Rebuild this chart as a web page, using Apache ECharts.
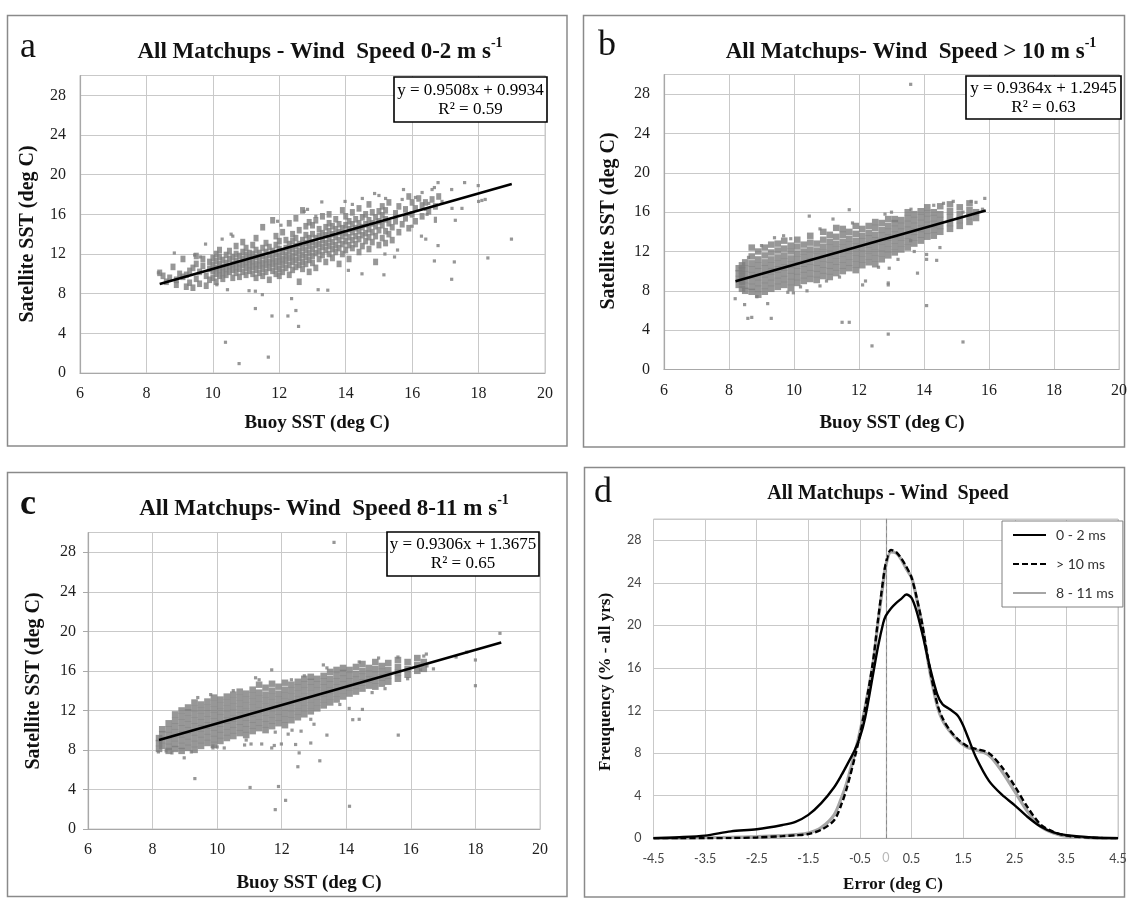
<!DOCTYPE html>
<html><head><meta charset="utf-8">
<script src="https://cdn.jsdelivr.net/npm/echarts@6/dist/echarts.min.js"></script>
<style>html,body{margin:0;padding:0;background:#fff}#chart{width:1130px;height:898px}</style>
</head><body><div id="chart"></div>
<script>
// ---------- Panel a : wind speed 0-2 m/s ----------
const aCore = [[8.4,10.1],[8.5,9.8],[8.6,9.2],[8.7,9.6],[8.8,10.7],[8.9,8.9],[8.9,9.4],[9.0,10.0],[9.1,11.5],[9.1,9.7],[9.2,8.7],[9.2,9.9],[9.3,10.3],[9.3,9.1],[9.4,8.6],[9.4,10.6],[9.5,9.5],[9.5,11.0],[9.5,11.8],[9.6,10.2],[9.6,9.0],[9.7,10.8],[9.7,11.5],[9.8,8.8],[9.8,9.8],[9.9,10.5],[9.9,11.2],[9.9,9.4],
[10.0,9.6],[10.0,10.3],[10.0,10.9],[10.0,11.6],[10.1,9.2],[10.1,10.0],[10.1,10.6],[10.1,11.3],[10.1,12.0],[10.2,9.8],[10.2,10.4],[10.2,11.0],[10.2,11.7],[10.2,12.4],[10.3,9.5],[10.3,10.1],[10.3,10.7],[10.3,11.4],[10.4,9.9],[10.4,10.5],[10.4,11.1],[10.4,11.9],[10.5,10.2],[10.5,10.8],[10.5,11.5],[10.5,12.3],[10.6,9.6],[10.6,10.4],[10.6,11.0],[10.6,11.7],[10.7,10.1],[10.7,10.7],[10.7,11.3],[10.7,12.0],[10.7,12.8],[10.8,9.7],[10.8,10.5],[10.8,11.1],[10.8,11.8],[10.9,10.2],[10.9,10.9],[10.9,11.5],[10.9,12.2],[10.9,13.2],
[11.0,9.9],[11.0,10.6],[11.0,11.2],[11.0,11.9],[11.0,12.6],[11.1,10.3],[11.1,10.9],[11.1,11.5],[11.1,12.1],[11.2,10.0],[11.2,10.7],[11.2,11.3],[11.2,12.0],[11.2,12.9],[11.3,9.6],[11.3,10.4],[11.3,11.0],[11.3,11.7],[11.3,12.4],[11.3,13.6],[11.4,10.1],[11.4,10.8],[11.4,11.4],[11.4,12.1],[11.5,9.8],[11.5,10.5],[11.5,11.1],[11.5,11.8],[11.5,12.6],[11.5,14.7],[11.6,10.2],[11.6,10.9],[11.6,11.5],[11.6,12.2],[11.6,13.1],[11.7,9.4],[11.7,10.6],[11.7,11.2],[11.7,11.9],[11.7,12.7],[11.8,10.3],[11.8,11.0],[11.8,11.6],[11.8,12.3],[11.8,15.4],[11.9,10.0],[11.9,10.7],[11.9,11.3],[11.9,12.0],[11.9,12.9],[11.9,13.8],
[12.0,9.8],[12.0,10.5],[12.0,11.2],[12.0,11.8],[12.0,12.5],[12.0,13.3],[12.1,10.2],[12.1,10.9],[12.1,11.5],[12.1,12.2],[12.1,14.2],[12.2,10.6],[12.2,11.3],[12.2,11.9],[12.2,12.6],[12.2,13.4],[12.3,9.9],[12.3,10.9],[12.3,11.6],[12.3,12.3],[12.3,13.0],[12.3,15.1],[12.4,10.4],[12.4,11.2],[12.4,11.8],[12.4,12.5],[12.4,13.3],[12.4,14.0],[12.5,10.7],[12.5,11.4],[12.5,12.1],[12.5,12.8],[12.5,13.6],[12.5,15.6],[12.6,9.2],[12.6,10.9],[12.6,11.6],[12.6,12.3],[12.6,13.0],[12.6,14.4],[12.7,10.5],[12.7,11.2],[12.7,11.9],[12.7,12.6],[12.7,13.4],[12.7,16.4],[12.8,11.0],[12.8,11.7],[12.8,12.4],[12.8,13.1],[12.8,13.9],[12.8,14.8],[12.9,10.2],[12.9,11.4],[12.9,12.1],[12.9,12.8],[12.9,13.6],[12.9,15.2],
[13.0,11.1],[13.0,11.8],[13.0,12.5],[13.0,13.2],[13.0,14.0],[13.0,14.9],[13.1,10.6],[13.1,12.1],[13.1,12.9],[13.1,13.6],[13.1,15.4],[13.2,11.5],[13.2,12.3],[13.2,13.0],[13.2,13.8],[13.2,14.5],[13.3,11.9],[13.3,12.7],[13.3,13.4],[13.3,14.1],[13.3,15.8],[13.4,11.2],[13.4,12.4],[13.4,13.1],[13.4,13.9],[13.4,14.7],[13.5,12.0],[13.5,12.8],[13.5,13.5],[13.5,14.3],[13.5,15.1],[13.5,16.0],[13.6,11.6],[13.6,12.5],[13.6,13.2],[13.6,14.0],[13.6,14.8],[13.7,12.2],[13.7,12.9],[13.7,13.7],[13.7,14.5],[13.7,15.5],[13.8,11.0],[13.8,12.6],[13.8,13.4],[13.8,14.2],[13.8,15.0],[13.9,12.0],[13.9,13.0],[13.9,13.8],[13.9,14.6],[13.9,16.4],
[14.0,12.4],[14.0,13.3],[14.0,14.1],[14.0,14.9],[14.0,15.8],[14.1,11.5],[14.1,12.9],[14.1,13.7],[14.1,14.5],[14.1,15.3],[14.2,12.6],[14.2,13.4],[14.2,14.2],[14.2,15.0],[14.2,16.2],[14.3,13.0],[14.3,13.8],[14.3,14.6],[14.3,15.5],[14.4,12.2],[14.4,13.5],[14.4,14.3],[14.4,15.1],[14.4,16.6],[14.5,12.8],[14.5,13.9],[14.5,14.7],[14.5,15.7],[14.6,13.3],[14.6,14.1],[14.6,15.0],[14.6,16.0],[14.7,12.5],[14.7,13.7],[14.7,14.5],[14.7,15.4],[14.7,17.0],[14.8,13.2],[14.8,14.2],[14.8,15.1],[14.8,16.2],[14.9,11.2],[14.9,13.8],[14.9,14.8],[14.9,15.7],[15.0,12.9],[15.0,14.4],[15.0,15.3],[15.0,16.3],[15.1,13.6],[15.1,14.9],[15.1,15.9],[15.1,16.8],[15.2,13.1],[15.2,14.3],[15.2,15.5],[15.2,16.4],[15.3,14.0],[15.3,15.1],[15.3,17.2],[15.4,13.4],[15.4,14.7],[15.5,15.3],[15.5,16.1],
[15.6,14.2],[15.6,16.8],[15.7,15.0],[15.8,15.6],[15.8,16.5],[15.9,14.6],[15.9,17.8],[16.0,16.0],[16.0,17.2],[16.1,15.3],[16.1,16.6],[16.2,17.6],[16.3,15.8],[16.3,16.9],[16.4,17.2],[16.5,16.3],[16.6,17.5],[16.7,16.8],[16.8,17.8]];
const aOut = [[10.38,3.1],[10.79,0.95],[11.67,1.6],[11.78,5.75],[12.26,5.75],[12.5,6.3],[12.58,4.7],[12.37,7.5],[11.28,6.5],[11.49,7.9],[11.09,8.3],[11.28,8.25],[13.17,8.4],[13.46,8.35],[14.08,10.35],[14.49,10.0],[15.15,9.9],[15.18,12.0],[15.47,11.7],[15.56,12.4],[16.28,13.8],[16.41,13.5],[16.67,11.3],[16.78,12.85],[17.19,9.45],[17.27,11.2],[18.28,11.6],[18.99,13.5],[17.19,18.5],[17.58,19.2],[17.99,18.9],[18.0,17.3],[18.1,17.4],[18.2,17.5],[17.5,16.6],[17.2,16.6],[17.3,15.4],[16.78,19.2],[16.67,18.7],[16.6,18.5],[15.74,18.5],[15.7,17.5],[14.87,18.1],[13.28,17.25],[13.98,17.3],[16.7,15.6],[16.7,15.3],[16.4,16.5],[16.45,16.0],[15.9,16.0],[16.0,14.8],[8.36,10.1],[8.84,12.1],[9.78,13.0],[10.28,13.5],[10.55,14.0],[10.6,13.8],[10.44,8.4],[10.12,8.9],[9.45,11.9],[9.62,11.7],[12.05,14.9],[12.75,16.3],[12.85,16.5],[13.1,15.8],[11.95,15.3],[14.2,17.0],[14.5,17.6],[15.0,17.9],[15.2,17.6],[16.1,17.7],[16.3,18.2],[16.5,17.1],[16.9,17.3]];
const aLine = [[8.4, 8.98], [19.0, 19.06]];
const aEq = ['y = 0.9508x + 0.9934', 'R² = 0.59'];

// ---------- Panel b : wind speed > 10 m/s (columns: x, y values) ----------
const bCols = [[8.3,[8.6,9.2,9.8,10.3]],[8.4,[8.2,8.9,9.5,10.1,10.6]],[8.5,[8.0,8.5,9.1,9.7,10.3,10.9]],[8.7,[7.9,8.4,9.0,9.6,10.2,10.8,11.5,12.4]],[8.9,[7.6,8.2,8.8,9.4,10.0,10.6,11.2,12.0]],[9.1,[7.9,8.5,9.1,9.7,10.3,10.9,11.6,12.4]],[9.3,[8.2,8.8,9.4,10.0,10.6,11.2,11.9,12.7]],[9.5,[8.4,9.0,9.6,10.2,10.8,11.4,12.1,12.8]],[9.7,[8.6,9.2,9.8,10.4,11.0,11.6,12.3,13.1]],[9.9,[8.3,8.9,9.5,10.1,10.7,11.3,12.0,12.6]],[10.1,[8.8,9.4,10.0,10.6,11.2,11.8,12.5,13.2]],[10.3,[9.0,9.6,10.2,10.8,11.4,12.0,12.7]],[10.5,[9.2,9.8,10.4,11.0,11.6,12.2,12.9,13.6]],[10.7,[9.1,9.7,10.3,10.9,11.5,12.1,12.8]],[10.9,[9.5,10.1,10.7,11.3,11.9,12.5,13.2,14.0]],[11.1,[9.4,10.0,10.6,11.2,11.8,12.4,13.0,13.7]],[11.3,[9.8,10.4,11.0,11.6,12.2,12.8,13.5,14.4]],[11.5,[10.0,10.6,11.2,11.8,12.4,13.0,13.7,14.3]],[11.7,[10.3,10.9,11.5,12.1,12.7,13.3,14.0]],[11.9,[10.1,10.7,11.3,11.9,12.5,13.1,13.8,14.6]],[12.1,[10.6,11.2,11.8,12.4,13.0,13.6,14.3]],[12.3,[10.9,11.5,12.1,12.7,13.3,13.9,14.6]],[12.5,[10.7,11.3,11.9,12.5,13.1,13.7,14.4,15.0]],[12.7,[11.2,11.8,12.4,13.0,13.6,14.2,14.9]],[12.9,[11.6,12.2,12.8,13.4,14.0,14.6,15.3]],[13.1,[11.9,12.5,13.1,13.7,14.3,14.9,15.3]],[13.3,[12.2,12.8,13.4,14.0,14.6,15.2]],[13.5,[12.4,13.0,13.6,14.2,14.8,15.4,16.0]],[13.7,[12.8,13.4,14.0,14.6,15.2,15.8]],[13.9,[13.1,13.7,14.3,14.9,15.5,16.1]],[14.1,[13.5,14.1,14.7,15.3,15.9,16.5]],[14.3,[13.6,14.2,14.8,15.4,16.0]],[14.5,[14.0,14.6,15.2,15.8,16.6]],[14.8,[14.3,14.9,15.5,16.1,16.8]],[15.1,[14.6,15.2,15.8,16.5]],[15.4,[15.0,15.6,16.2,16.9]],[15.6,[15.4,16.0]]];
const bOut = [[13.59,29.0],[8.19,7.2],[8.48,6.6],[8.58,5.2],[8.7,5.3],[9.3,5.2],[9.19,6.7],[11.48,4.8],[11.7,4.8],[12.4,2.4],[12.9,3.6],[15.2,2.8],[14.08,6.5],[13.8,9.8],[12.9,8.8],[12.9,8.6],[12.11,8.6],[12.2,9.0],[12.93,10.3],[14.08,11.7],[14.08,11.2],[14.39,11.1],[14.49,12.4],[11.7,16.25],[10.47,15.6],[11.2,15.3],[14.9,17.1],[15.45,17.1],[15.6,17.0],[15.87,17.4],[9.68,13.6],[9.4,13.4],[10.4,8.0],[10.8,8.5],[9.81,7.85],[9.98,7.8],[8.86,7.4],[13.59,13.1],[12.6,10.4],[13.2,11.2],[13.7,12.0],[11.0,9.0],[10.2,8.4],[11.4,9.4],[12.8,15.8],[13.0,16.0],[13.6,16.3],[14.3,16.7],[14.6,16.9],[15.2,16.0],[15.8,16.3],[11.8,14.9],[10.8,14.3],[9.9,13.3],[9.0,12.6],[8.6,11.4]];
const bLine = [[8.2, 8.97], [15.9, 16.18]];
const bEq = ['y = 0.9364x + 1.2945', 'R² = 0.63'];

// ---------- Panel c : wind speed 8-11 m/s (columns: x, y values) ----------
const cCols = [[8.2,[8.1,8.7,9.2]],[8.3,[8.4,9.0,9.6,10.1]],[8.5,[7.9,8.3,8.9,9.5,10.1,10.7]],[8.7,[8.1,8.6,9.2,9.8,10.4,11.0,11.6]],[8.9,[7.9,8.4,9.0,9.6,10.2,10.8,11.4,12.0]],[9.1,[8.2,8.8,9.4,10.0,10.6,11.2,11.8,12.3]],[9.3,[8.0,8.6,9.2,9.8,10.4,11.0,11.6,12.2,12.8]],[9.5,[8.4,9.0,9.6,10.2,10.8,11.4,12.0,12.6]],[9.7,[8.7,9.3,9.9,10.5,11.1,11.7,12.3,12.9]],[9.9,[8.5,9.1,9.7,10.3,10.9,11.5,12.1,12.7,13.3]],[10.1,[8.9,9.5,10.1,10.7,11.3,11.9,12.5,13.1]],[10.3,[9.2,9.8,10.4,11.0,11.6,12.2,12.8,13.4]],[10.5,[9.4,10.0,10.6,11.2,11.8,12.4,13.0,13.6]],[10.7,[9.7,10.3,10.9,11.5,12.1,12.7,13.3,13.9]],[10.9,[9.5,10.1,10.7,11.3,11.9,12.5,13.1,13.7]],[11.1,[9.9,10.5,11.1,11.7,12.3,12.9,13.5,14.1]],[11.3,[10.2,10.8,11.4,12.0,12.6,13.2,13.8,14.6]],[11.5,[10.0,10.6,11.2,11.8,12.4,13.0,13.6,14.3]],[11.7,[10.4,11.0,11.6,12.2,12.8,13.4,14.0,14.7]],[11.9,[10.7,11.3,11.9,12.5,13.1,13.7,14.4]],[12.1,[10.5,11.1,11.7,12.3,12.9,13.5,14.1,14.8]],[12.3,[11.0,11.6,12.2,12.8,13.4,14.0,14.6]],[12.5,[11.3,11.9,12.5,13.1,13.7,14.3,14.9]],[12.7,[11.6,12.2,12.8,13.4,14.0,14.6,15.2]],[12.9,[11.9,12.5,13.1,13.7,14.3,14.9,15.4]],[13.1,[12.2,12.8,13.4,14.0,14.6,15.2]],[13.3,[12.5,13.1,13.7,14.3,14.9,15.5]],[13.5,[12.8,13.4,14.0,14.6,15.2,15.9]],[13.7,[13.1,13.7,14.3,14.9,15.5,16.1]],[13.9,[13.4,14.0,14.6,15.2,15.8,16.3]],[14.1,[13.7,14.3,14.9,15.5,16.1]],[14.3,[13.9,14.5,15.1,15.7,16.4]],[14.5,[14.2,14.8,15.4,16.0,16.7]],[14.7,[14.5,15.1,15.7,16.3]],[14.9,[14.4,15.0,15.6,16.2,16.9]],[15.1,[14.7,15.3,15.9,16.5]],[15.3,[14.9,15.5,16.1,16.8]],[15.6,[15.2,15.8,16.4,17.1]],[15.9,[15.6,16.2,16.9]],[16.2,[16.0,16.6,17.3]],[16.4,[16.2,16.9]]];
const cOut = [[13.62,29.0],[18.76,19.8],[18.0,17.1],[18.0,14.5],[17.73,17.9],[17.4,17.4],[16.4,17.5],[16.48,17.7],[15.61,9.5],[14.5,12.1],[14.4,11.1],[14.2,11.06],[14.09,12.2],[14.1,2.3],[13.18,6.9],[12.54,7.7],[12.5,6.3],[12.12,2.9],[11.8,1.96],[11.9,4.3],[11.02,4.2],[9.31,5.1],[8.98,7.2],[12.9,8.7],[13.4,9.5],[12.43,8.55],[12.32,10.0],[11.77,8.45],[11.99,8.6],[11.38,8.6],[11.69,8.2],[11.69,16.1],[13.29,16.6],[11.19,15.3],[9.87,8.4],[9.87,8.2],[10.22,8.2],[8.18,7.8],[8.42,7.9],[10.85,8.5],[11.05,8.6],[9.4,13.3],[9.8,13.6],[10.5,14.0],[11.3,15.1],[12.3,15.1],[12.7,15.5],[13.4,16.3],[14.4,16.9],[15.0,17.3],[15.6,17.4],[16.7,16.2],[16.5,16.5],[14.8,13.8],[13.8,12.6],[12.9,11.1],[11.8,9.8],[10.9,9.0],[10.0,8.3],[9.2,7.8],[8.6,7.7],[12.6,9.9],[12.2,9.6],[13.0,10.6],[15.2,14.2],[15.9,15.2],[16.3,16.1]];
const cLine = [[8.2, 9.0], [18.8, 18.86]];
const cEq = ['y = 0.9306x + 1.3675', 'R² = 0.65'];

// ---------- Panel d : error frequency ----------
const dX    = [-4.5,-4,-3.5,-3,-2.5,-2,-1.75,-1.5,-1.25,-1,-0.85,-0.75,-0.6,-0.5,-0.4,-0.25,-0.15,-0.05,0,0.1,0.2,0.3,0.4,0.5,0.6,0.7,0.85,1,1.1,1.25,1.4,1.5,1.6,1.75,2,2.25,2.5,2.75,3,3.25,3.5,4,4.5];
const d0_2  = [0.02,0.1,0.25,0.65,0.85,1.25,1.55,2.2,3.3,4.8,6.0,6.9,8.3,9.5,11.3,15.3,18.0,20.2,20.9,21.6,22.1,22.5,22.9,22.6,21.3,19.4,16.2,13.5,12.6,12.1,11.5,10.6,9.4,7.6,5.4,4.1,3.1,2.0,1.1,0.55,0.3,0.08,0.02];
const dGt10 = [0,0,0,0.02,0.08,0.2,0.28,0.4,0.8,1.7,3.3,4.8,7.6,9.7,12.2,16.5,20.5,24.3,25.8,27.1,26.9,26.3,25.5,24.5,22.6,20.3,16.0,12.6,11.3,10.1,9.3,8.9,8.6,8.4,8.0,6.7,4.9,2.9,1.3,0.6,0.25,0.05,0];
const d8_11 = [0,0.02,0.05,0.1,0.15,0.25,0.35,0.5,1.0,2.2,3.9,5.3,8.0,10.0,12.3,16.3,20.3,24.0,25.6,26.9,26.8,26.2,25.3,24.5,22.5,20.2,15.8,12.4,11.1,10.0,9.2,8.8,8.5,8.3,7.8,6.3,4.4,2.5,1.1,0.5,0.2,0.04,0];
const dNames = ['0 - 2 ms', '> 10 ms', '8 - 11 ms'];

// ---------- helpers ----------
function flat(cols){ const o=[]; cols.forEach(c=>c[1].forEach(y=>o.push([c[0],y]))); return o; }
function pairs(xs, ys){ return xs.map((x,i)=>[x, ys[i]]); }

const SERIF = '"Liberation Serif","Times New Roman",serif';
const SANS = 'Lato,"Open Sans",sans-serif';
const GRID_C = '#c9c9c9', AXIS_C = '#a8a8a8', DOT_C = '#7d7d7d';

const grids = [
  {left:80,  top:75.5, width:465,   height:297.5},
  {left:664, top:74.5, width:455,   height:295},
  {left:88,  top:532.5,width:452,   height:296.5},
  {left:653.5,top:519, width:464.5, height:319.3}
].map(g=>Object.assign({show:true, borderColor:GRID_C, borderWidth:1, backgroundColor:'transparent'}, g));

function sx(i){ return {gridIndex:i, type:'value', min:6, max:20, interval:2,
  axisLine:{show:true, lineStyle:{color:AXIS_C, width:1.2}}, axisTick:{show:false},
  splitLine:{lineStyle:{color:GRID_C, width:1}},
  axisLabel:{fontFamily:SERIF, fontSize:16, color:'#1e1e1e', margin:13}}; }
function sy(i, tick){ return {gridIndex:i, type:'value', min:0, max:30, interval:4,
  axisLine:{show:true, lineStyle:{color:AXIS_C, width:1.2}},
  axisTick:{show:!!tick, length:5, lineStyle:{color:AXIS_C}},
  splitLine:{lineStyle:{color:GRID_C, width:1}},
  axisLabel:{fontFamily:SERIF, fontSize:16, color:'#1e1e1e', margin:tick?12:14, showMaxLabel:false}}; }

function scatterSeries(i, core, out, line, coreSize){
  return [
    {type:'scatter', xAxisIndex:i, yAxisIndex:i, data:core, symbol:'rect', symbolSize:coreSize, itemStyle:{color:DOT_C}, silent:true, z:2},
    {type:'scatter', xAxisIndex:i, yAxisIndex:i, data:out, symbol:'rect', symbolSize:3.2, itemStyle:{color:DOT_C}, silent:true, z:2},
    {type:'line', xAxisIndex:i, yAxisIndex:i, data:line, showSymbol:false, symbol:'none', lineStyle:{color:'#000', width:2.6}, silent:true, z:3}
  ];
}

function eqBox(x, y, w, h, lines){
  return [
    {type:'rect', z:50, shape:{x:x, y:y, width:w, height:h}, style:{fill:'#fff', stroke:'#000', lineWidth:1.6}},
    {type:'text', z:51, x:x+w/2, y:y+h/2+0.5, style:{text:lines.join('\n'), font:'17px '+SERIF, fill:'#000', align:'center', verticalAlign:'middle', lineHeight:19}}
  ];
}
function panelBorder(x, y, w, h){ return {type:'rect', z:-1, shape:{x:x, y:y, width:w, height:h}, style:{fill:'none', stroke:'#8a8a8a', lineWidth:1.5}}; }
function label(t, x, y, bold){ return {type:'text', z:10, x:x, y:y, style:{text:t, font:(bold?'bold ':'')+'36px '+SERIF, fill:'#111', align:'center', verticalAlign:'middle'}}; }
function title(main, sup, x, y, size){
  const txt = sup ? '{t|'+main+'}{s|'+sup+'}' : '{t|'+main+'}';
  return {type:'text', z:10, x:x, y:y, style:{text:txt, align:'center', verticalAlign:'middle',
    rich:{t:{fontFamily:SERIF, fontWeight:'bold', fontSize:size, fill:'#111', lineHeight:size+4, verticalAlign:'bottom'},
          s:{fontFamily:SERIF, fontWeight:'bold', fontSize:Math.round(size*0.6), fill:'#111', lineHeight:Math.round(size*0.6)+1, verticalAlign:'top'}}}};
}
function axTitle(t, x, y, size, rot){
  return {type:'text', z:10, x:x, y:y, rotation: rot?Math.PI/2:0, style:{text:t, font:'bold '+size+'px '+SERIF, fill:'#111', align:'center', verticalAlign:'middle'}};
}

const chart = echarts.init(document.getElementById('chart'), null, {renderer:'canvas'});
chart.setOption({
  animation:false,
  backgroundColor:'#fff',
  grid: grids,
  xAxis: [sx(0), sx(1), sx(2),
    {gridIndex:3, type:'value', min:-4.5, max:4.5, interval:1,
     axisLine:{show:true, lineStyle:{color:AXIS_C, width:1.2}}, axisTick:{show:false},
     splitLine:{lineStyle:{color:GRID_C, width:1}},
     axisLabel:{fontFamily:SANS, fontSize:12.5, color:'#444', margin:14}}],
  yAxis: [sy(0), sy(1), sy(2, true),
    {gridIndex:3, type:'value', min:0, max:30, interval:4,
     axisLine:{show:true, lineStyle:{color:AXIS_C, width:1.2}}, axisTick:{show:false},
     splitLine:{lineStyle:{color:GRID_C, width:1}},
     axisLabel:{fontFamily:SANS, fontSize:12.5, color:'#444', margin:12, showMaxLabel:false}}],
  legend:{data:dNames, orient:'vertical', left:1002, top:521, padding:[7,9,7,10], itemGap:15,
    itemWidth:33, itemHeight:14, backgroundColor:'#fff', borderColor:'#808080', borderWidth:1,
    itemStyle:{color:'rgba(0,0,0,0)', borderColor:'rgba(0,0,0,0)', borderWidth:0, opacity:0},
    textStyle:{fontFamily:SANS, fontSize:14, color:'#333', padding:[0,0,0,5]}},
  series: [].concat(
    scatterSeries(0, aCore, aOut, aLine, [5, 6.6]),
    scatterSeries(1, flat(bCols), bOut, bLine, [6.6, 6.4]),
    scatterSeries(2, flat(cCols), cOut, cLine, [6.6, 6.4]),
    [
      {name:dNames[2], type:'line', xAxisIndex:3, yAxisIndex:3, data:pairs(dX, d8_11), smooth:0.3, showSymbol:false, symbol:'none',
       itemStyle:{color:'#a6a6a6'}, lineStyle:{color:'#a6a6a6', width:3.2}, silent:true, z:3,
       markLine:{silent:true, symbol:['none','none'], data:[{xAxis:0}], lineStyle:{color:'#8a8a8a', type:[4,3], width:1},
         label:{show:true, position:'start', formatter:'0', color:'#b8b8b8', fontFamily:SANS, fontSize:12.5, distance:13}}},
      {name:dNames[1], type:'line', xAxisIndex:3, yAxisIndex:3, data:pairs(dX, dGt10), smooth:0.3, showSymbol:false, symbol:'none',
       itemStyle:{color:'#000'}, lineStyle:{color:'#000', width:2.4, type:[6,3]}, silent:true, z:4},
      {name:dNames[0], type:'line', xAxisIndex:3, yAxisIndex:3, data:pairs(dX, d0_2), smooth:0.3, showSymbol:false, symbol:'none',
       itemStyle:{color:'#000'}, lineStyle:{color:'#000', width:2.4}, silent:true, z:5}
    ]),
  graphic: [].concat(
    [panelBorder(7.5, 15.5, 559.5, 430.5), panelBorder(583.5, 15.5, 541, 431.5),
     panelBorder(7.5, 472.5, 559.5, 424), panelBorder(584.5, 467.5, 540, 429.5)],
    [label('a', 28, 48), label('b', 607, 46), label('c', 28, 505, true), label('d', 603, 493)],
    [title('All Matchups - Wind  Speed 0-2 m s', '-1', 320, 50, 23),
     title('All Matchups- Wind  Speed > 10 m s', '-1', 911, 50, 23),
     title('All Matchups- Wind  Speed 8-11 m s', '-1', 324, 507, 23),
     title('All Matchups - Wind  Speed', null, 888, 492, 20)],
    [axTitle('Satellite SST (deg C)', 28, 234, 20, true), axTitle('Buoy SST (deg C)', 317, 423, 19),
     axTitle('Satellite SST (deg C)', 609, 221, 20, true), axTitle('Buoy SST (deg C)', 892, 423, 19),
     axTitle('Satellite SST (deg C)', 34, 681, 20, true), axTitle('Buoy SST (deg C)', 309, 883, 19),
     axTitle('Freuquency (% - all yrs)', 606, 682, 17, true), axTitle('Error (deg C)', 893, 885, 17)],
    eqBox(394, 77, 153, 45, aEq), eqBox(966, 76, 155, 43, bEq), eqBox(387, 532, 152, 44, cEq)
  )
});
</script></body></html>
